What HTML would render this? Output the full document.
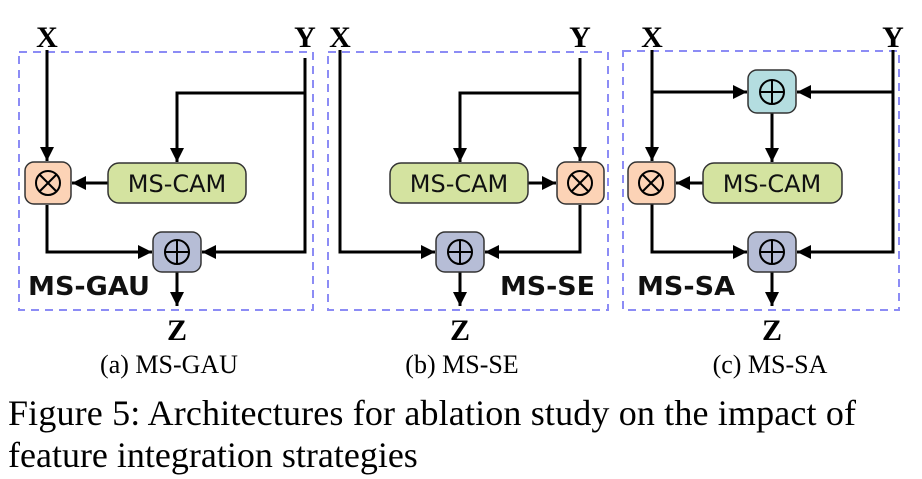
<!DOCTYPE html>
<html><head><meta charset="utf-8"><style>
html,body{margin:0;padding:0;background:#fff;width:922px;height:479px;overflow:hidden}
svg text{font-family:"Liberation Serif",serif}
svg .s text{font-family:"DejaVu Sans","Liberation Sans",sans-serif}
</style></head><body>
<svg width="922" height="479" viewBox="0 0 922 479" xmlns="http://www.w3.org/2000/svg">
<defs>
<marker id="a" viewBox="0 0 10 10" refX="10" refY="5" markerWidth="14" markerHeight="14" orient="auto" markerUnits="userSpaceOnUse">
<path d="M0,0 L10,5 L0,10 z" fill="#000"/>
</marker>
<g id="ot"><circle cx="0" cy="0" r="12" fill="none" stroke="#000" stroke-width="2"/><path d="M-8.5,-8.5L8.5,8.5M8.5,-8.5L-8.5,8.5" stroke="#000" stroke-width="2"/></g>
<g id="op"><circle cx="0" cy="0" r="12" fill="none" stroke="#000" stroke-width="2"/><path d="M-12,0H12M0,-12V12" stroke="#000" stroke-width="2"/></g>
</defs>
<g fill="none" stroke="#8c8cf5" stroke-width="2" stroke-dasharray="8,6">
<rect x="19" y="52" width="294" height="258"/>
<rect x="328" y="52" width="280" height="258"/>
<rect x="623" y="51" width="276" height="259"/>
</g>
<g font-size="30" font-weight="bold" text-anchor="middle">
<text x="47" y="47">X</text><text x="305" y="47">Y</text><text x="177" y="340">Z</text>
<text x="340" y="47">X</text><text x="580" y="47">Y</text><text x="460" y="340">Z</text>
<text x="652" y="47">X</text><text x="893" y="47">Y</text><text x="772" y="340">Z</text>
</g>
<g stroke="#000" stroke-width="3" fill="none">
<path d="M47,50V161" marker-end="url(#a)"/>
<path d="M305,58V252H202" marker-end="url(#a)"/>
<path d="M305,93H177V162" marker-end="url(#a)"/>
<path d="M108,183H72" marker-end="url(#a)"/>
<path d="M47,205V252H152" marker-end="url(#a)"/>
<path d="M177,272V306" marker-end="url(#a)"/>
<path d="M340,50V252H435" marker-end="url(#a)"/>
<path d="M580,58V161" marker-end="url(#a)"/>
<path d="M580,93H460V162" marker-end="url(#a)"/>
<path d="M528,183H556" marker-end="url(#a)"/>
<path d="M580,205V252H485" marker-end="url(#a)"/>
<path d="M460,272V306" marker-end="url(#a)"/>
<path d="M652,50V161" marker-end="url(#a)"/>
<path d="M652,92H747" marker-end="url(#a)"/>
<path d="M893,50V252H797" marker-end="url(#a)"/>
<path d="M893,92H797" marker-end="url(#a)"/>
<path d="M772,113V162" marker-end="url(#a)"/>
<path d="M703,183H676" marker-end="url(#a)"/>
<path d="M652,203V252H747" marker-end="url(#a)"/>
<path d="M772,272V306" marker-end="url(#a)"/>
</g>
<g stroke="#333" stroke-width="1.5">
<rect x="25" y="162" width="46" height="42" rx="9" fill="#fcd3b6"/>
<rect x="108" y="163" width="138" height="40" rx="11" fill="#d4e3a0"/>
<rect x="153" y="232" width="48" height="40" rx="9" fill="#b6bdd6"/>
<rect x="557" y="162" width="47" height="42" rx="9" fill="#fcd3b6"/>
<rect x="390" y="163" width="138" height="40" rx="11" fill="#d4e3a0"/>
<rect x="436" y="232" width="48" height="40" rx="9" fill="#b6bdd6"/>
<rect x="628" y="162" width="47" height="42" rx="9" fill="#fcd3b6"/>
<rect x="703" y="163" width="139" height="40" rx="11" fill="#d4e3a0"/>
<rect x="748" y="232" width="48" height="40" rx="9" fill="#b6bdd6"/>
<rect x="748" y="70" width="48" height="43" rx="9" fill="#b4dde0"/>
</g>
<use href="#ot" x="48" y="183"/><use href="#op" x="177" y="252"/>
<use href="#ot" x="580" y="183"/><use href="#op" x="460" y="252"/>
<use href="#ot" x="651" y="183"/><use href="#op" x="772" y="252"/><use href="#op" x="772" y="92"/>
<g class="s" font-size="24" text-anchor="middle" fill="#111">
<text x="177" y="192">MS-CAM</text><text x="459" y="192">MS-CAM</text><text x="772" y="192">MS-CAM</text>
</g>
<g class="s" font-size="26" font-weight="bold" fill="#111">
<text x="28" y="295" textLength="122" lengthAdjust="spacingAndGlyphs">MS-GAU</text>
<text x="500" y="295" textLength="95" lengthAdjust="spacingAndGlyphs">MS-SE</text>
<text x="637" y="295" textLength="98" lengthAdjust="spacingAndGlyphs">MS-SA</text>
</g>
<g font-size="26" text-anchor="middle">
<text x="169" y="373">(a) MS-GAU</text>
<text x="462" y="373">(b) MS-SE</text>
<text x="770" y="373">(c) MS-SA</text>
</g>
<g font-size="36">
<text x="8" y="425" textLength="848">Figure 5:  Architectures for ablation study on the impact of</text>
<text x="8" y="467">feature integration strategies</text>
</g>
</svg>
</body></html>
